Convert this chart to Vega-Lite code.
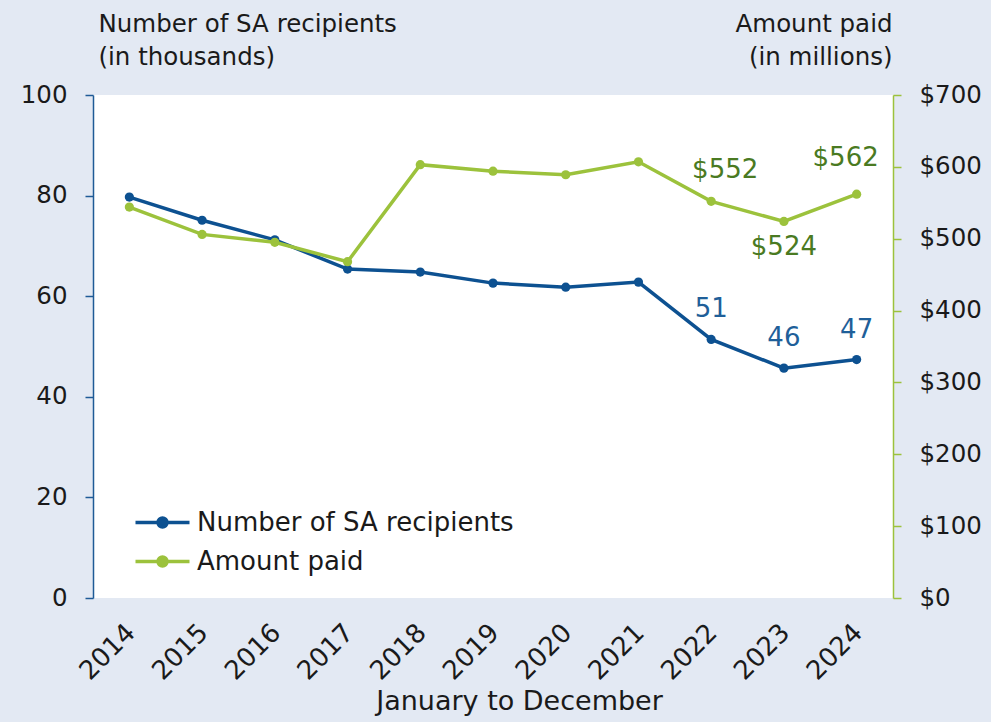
{
  "$schema": "https://vega.github.io/schema/vega-lite/v6.json",
  "width": 800,
  "height": 503,
  "autosize": "none",
  "padding": {"left": 93, "top": 95, "right": 98, "bottom": 124},
  "background": "#e3e9f3",
  "config": {
    "view": {"stroke": null, "fill": "white"},
    "font": "DejaVu Sans",
    "axis": {"grid": false, "labelColor": "#1a1a1a", "titleColor": "#1a1a1a", "labelFontSize": 24.5, "titleFontSize": 24.5, "titleFontWeight": "normal"}
  },
  "data": {
    "values": [
      {"year": "2014", "recipients": 79.7, "amount": 544},
      {"year": "2015", "recipients": 75.1, "amount": 506},
      {"year": "2016", "recipients": 71.2, "amount": 495},
      {"year": "2017", "recipients": 65.4, "amount": 468},
      {"year": "2018", "recipients": 64.8, "amount": 603},
      {"year": "2019", "recipients": 62.6, "amount": 594},
      {"year": "2020", "recipients": 61.8, "amount": 589},
      {"year": "2021", "recipients": 62.8, "amount": 607},
      {"year": "2022", "recipients": 51.4, "amount": 552, "rLabel": "51", "aLabel": "$552"},
      {"year": "2023", "recipients": 45.7, "amount": 524, "rLabel": "46", "aLabel": "$524"},
      {"year": "2024", "recipients": 47.4, "amount": 562, "rLabel": "47", "aLabel": "$562"}
    ]
  },
  "encoding": {
    "x": {
      "field": "year",
      "type": "ordinal",
      "scale": {"type": "point", "padding": 0.5},
      "axis": {
        "title": "January to December",
        "labelAngle": -45,
        "labelFontSize": 26,
        "domain": false,
        "ticks": false,
        "labelPadding": 21,
        "labelOffset": -8,
        "titleFontSize": 27,
        "titleX": 426,
        "titleY": 111,
        "titleAlign": "center",
        "titleBaseline": "alphabetic"
      }
    }
  },
  "layer": [
    {
      "encoding": {
        "y": {
          "field": "recipients",
          "type": "quantitative",
          "scale": {"domain": [0, 100]},
          "axis": {
            "orient": "left",
            "values": [0, 20, 40, 60, 80, 100],
            "domainColor": "#1f5b96",
            "domainWidth": 1.5,
            "tickColor": "#1f5b96",
            "tickSize": 8,
            "tickWidth": 1.5,
            "labelPadding": 18,
            "title": ["Number of SA recipients", "(in thousands)"],
            "titleAngle": 0,
            "titleAlign": "left",
            "titleBaseline": "alphabetic",
            "titleX": 5,
            "titleY": -64,
            "titleLineHeight": 33
          }
        }
      },
      "layer": [
        {
          "mark": {"type": "line", "strokeWidth": 3.5},
          "encoding": {
            "color": {
              "datum": "Number of SA recipients",
              "scale": {"domain": ["Number of SA recipients", "Amount paid"], "range": ["#0d5191", "#9cc23c"]},
              "legend": {
                "orient": "none",
                "legendX": 54,
                "legendY": 412,
                "title": null,
                "padding": 0,
                "symbolType": "M-2,0L2,0M-0.33,0A0.33,0.33 0 1,0 0.33,0A0.33,0.33 0 1,0 -0.33,0",
                "symbolSize": 729,
                "symbolStrokeWidth": 3.5,
                "labelFontSize": 26,
                "labelLimit": 0,
                "labelColor": "#1a1a1a",
                "labelOffset": 19,
                "rowPadding": 10,
                "encode": {"symbols": {"update": {"fill": {"scale": "color", "field": "value"}}}}
              }
            }
          }
        },
        {"mark": {"type": "point", "filled": true, "opacity": 1, "size": 85, "color": "#0d5191"}},
        {
          "transform": [{"filter": "datum.rLabel != null"}],
          "mark": {"type": "text", "fontSize": 26, "color": "#1f5f99", "baseline": "alphabetic", "dy": -22},
          "encoding": {"text": {"field": "rLabel"}}
        }
      ]
    },
    {
      "encoding": {
        "y": {
          "field": "amount",
          "type": "quantitative",
          "scale": {"domain": [0, 700]},
          "axis": {
            "orient": "right",
            "values": [0, 100, 200, 300, 400, 500, 600, 700],
            "format": "$.0f",
            "domainColor": "#9cc23c",
            "domainWidth": 1.5,
            "tickColor": "#9cc23c",
            "tickSize": 8,
            "tickWidth": 1.5,
            "labelPadding": 18,
            "title": ["Amount paid", "(in millions)"],
            "titleAngle": 0,
            "titleAlign": "right",
            "titleBaseline": "alphabetic",
            "titleX": -1,
            "titleY": -64,
            "titleLineHeight": 33
          }
        }
      },
      "layer": [
        {
          "mark": {"type": "line", "strokeWidth": 3.5},
          "encoding": {"color": {"datum": "Amount paid"}}
        },
        {"mark": {"type": "point", "filled": true, "opacity": 1, "size": 85, "color": "#9cc23c"}},
        {
          "transform": [{"filter": "datum.year == '2022'"}],
          "mark": {"type": "text", "fontSize": 26, "color": "#4a7a22", "baseline": "alphabetic", "dy": -23, "dx": 14},
          "encoding": {"text": {"field": "aLabel"}}
        },
        {
          "transform": [{"filter": "datum.year == '2023'"}],
          "mark": {"type": "text", "fontSize": 26, "color": "#4a7a22", "baseline": "alphabetic", "dy": 34},
          "encoding": {"text": {"field": "aLabel"}}
        },
        {
          "transform": [{"filter": "datum.year == '2024'"}],
          "mark": {"type": "text", "fontSize": 26, "color": "#4a7a22", "baseline": "alphabetic", "dy": -28, "dx": -11},
          "encoding": {"text": {"field": "aLabel"}}
        }
      ]
    }
  ],
  "resolve": {"scale": {"y": "independent"}}
}
